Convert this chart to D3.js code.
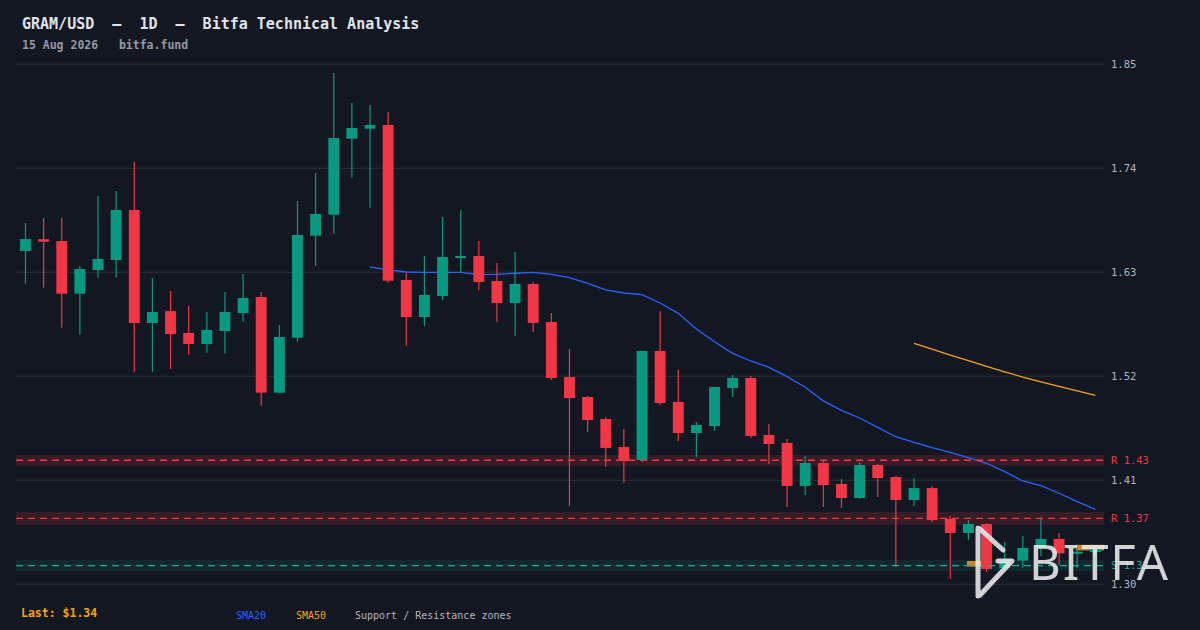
<!DOCTYPE html>
<html>
<head>
<meta charset="utf-8">
<script src="https://cdn.jsdelivr.net/npm/d3@7"></script>
<style>
html, body { margin: 0; padding: 0; background: #131722; }
svg { display: block; }
</style>
</head>
<body>
<div id="chart"></div>
<script>
// daily candles, 17 Jun 2026 -> 15 Aug 2026
const openPrices  = [1.6525,1.6650,1.6631,1.6074,1.6324,1.6430,1.6959,1.5764,1.5890,1.5658,
                     1.5542,1.5679,1.5869,1.6039,1.5027,1.5608,1.6687,1.6909,1.7713,1.7819,
                     1.7858,1.6219,1.5827,1.6049,1.6451,1.6472,1.6208,1.5975,1.6176,1.5774,
                     1.5192,1.4981,1.4748,1.4452,1.4315,1.5468,1.4929,1.4600,1.4674,1.5076,
                     1.5182,1.4579,1.4495,1.4040,1.4283,1.4061,1.3913,1.4262,1.4135,1.3892,
                     1.4018,1.3691,1.3543,1.3638,1.3172,1.3250,1.3387,1.3479,1.3323,1.3342];
const highPrices  = [1.6821,1.6874,1.6874,1.6367,1.7107,1.7160,1.7467,1.6240,1.6102,1.5944,
                     1.5880,1.6092,1.6282,1.6092,1.5743,1.7054,1.7350,1.8408,1.8091,1.8070,
                     1.7995,1.6296,1.6472,1.6885,1.6959,1.6631,1.6398,1.6515,1.6197,1.5870,
                     1.5489,1.4992,1.4770,1.4643,1.5468,1.5889,1.5267,1.4717,1.5087,1.5214,
                     1.5203,1.4695,1.4537,1.4357,1.4315,1.4114,1.4294,1.4272,1.4146,1.4124,
                     1.4040,1.3722,1.3680,1.3648,1.3447,1.3511,1.3709,1.3540,1.3416,1.3384];
const lowPrices   = [1.6179,1.6137,1.5714,1.5640,1.6243,1.6243,1.5249,1.5249,1.5280,1.5428,
                     1.5450,1.5440,1.5777,1.4889,1.5027,1.5566,1.6370,1.6708,1.7301,1.6983,
                     1.6190,1.5524,1.5732,1.6007,1.6296,1.6113,1.5774,1.5626,1.5669,1.5161,
                     1.3828,1.4611,1.4241,1.4072,1.4294,1.4897,1.4516,1.4346,1.4621,1.4981,
                     1.4547,1.4272,1.3817,1.3945,1.3817,1.3807,1.3903,1.3924,1.3183,1.3828,
                     1.3659,1.3056,1.3469,1.3130,1.3150,1.3176,1.3300,1.3204,1.3172,1.3296];
const closePrices = [1.6652,1.6624,1.6074,1.6335,1.6441,1.6959,1.5764,1.5880,1.5647,1.5542,
                     1.5690,1.5880,1.6028,1.5027,1.5616,1.6695,1.6917,1.7720,1.7826,1.7858,
                     1.6211,1.5827,1.6060,1.6462,1.6472,1.6197,1.5975,1.6176,1.5764,1.5182,
                     1.4970,1.4738,1.4442,1.4304,1.5468,1.4918,1.4600,1.4685,1.5087,1.5182,
                     1.4569,1.4484,1.4040,1.4283,1.4050,1.3913,1.4262,1.4124,1.3892,1.4018,
                     1.3680,1.3543,1.3638,1.3162,1.3257,1.3384,1.3479,1.3328,1.3345,1.3379];

// moving averages (first value sits on candle index sma20Start / sma50Start)
const sma20Start = 19;
const sma20 = [1.6357,1.6325,1.6303,1.6300,1.6300,1.6300,1.6275,1.6279,1.6290,1.6300,
               1.6279,1.6243,1.6184,1.6113,1.6081,1.6063,1.5975,1.5866,1.5700,1.5566,
               1.5443,1.5362,1.5295,1.5196,1.5084,1.4940,1.4840,1.4759,1.4660,1.4561,
               1.4502,1.4445,1.4396,1.4339,1.4280,1.4191,1.4093,1.4043,1.3963,1.3874,
               1.3793];
const sma50Start = 49;
const sma50 = [1.5549,1.5487,1.5425,1.5366,1.5306,1.5248,1.5192,1.5142,1.5093,1.5046,1.4999];

// support / resistance zones
const zoneKind  = ["R", "R", "S"];
const zoneLevel = [1.4312, 1.3698, 1.3197];
const zoneLow   = [1.4254, 1.3630, 1.3141];
const zoneHigh  = [1.4368, 1.3765, 1.3257];

// orange level markers: candle index range + price
const markerFrom  = [52, 58];
const markerTo    = [53, 59];
const markerPrice = [1.3217, 1.3388];

const yTicks = [1.85, 1.74, 1.63, 1.52, 1.41, 1.30];
const lastPrice = 1.34;

const W = 1200, H = 630;
const mono = "'DejaVu Sans Mono', monospace";
const green = "#089981", red = "#f23645", blue = "#2962ff", orange = "#f7a21b";

const dates = d3.timeDay.range(new Date(2026, 5, 17), new Date(2026, 7, 16));
const candles = dates.map((d, i) => ({
    date: d, i: i,
    open: openPrices[i], high: highPrices[i], low: lowPrices[i], close: closePrices[i]
}));

const svg = d3.select("#chart")
    .append("svg")
    .attr("width", W)
    .attr("height", H);

svg.append("rect")
    .attr("width", W)
    .attr("height", H)
    .attr("fill", "#131722");

const xScale = d3.scaleBand()
    .domain(d3.range(candles.length))
    .range([16.4, 1104.4])
    .paddingInner(0.4)
    .paddingOuter(0.2);
const xc = i => xScale(i) + xScale.bandwidth() / 2;

const yScale = d3.scaleLinear()
    .domain([1.30, 1.85])
    .range([584.3, 64.3]);

const plotLeft = 16, plotRight = 1104;

// zone fills
zoneKind.forEach((k, i) => {
    svg.append("rect")
        .attr("x", plotLeft)
        .attr("width", plotRight - plotLeft)
        .attr("y", yScale(zoneHigh[i]))
        .attr("height", yScale(zoneLow[i]) - yScale(zoneHigh[i]))
        .attr("fill", k == "R" ? red : green)
        .attr("opacity", k == "R" ? 0.16 : 0.13);
});

// grid
svg.append("g")
    .selectAll("line")
    .data(yTicks)
    .join("line")
    .attr("x1", plotLeft)
    .attr("x2", plotRight)
    .attr("y1", d => yScale(d))
    .attr("y2", d => yScale(d))
    .attr("stroke", "#2a2e39")
    .attr("stroke-width", 1);

// axis labels
const yAxis = d3.axisRight(yScale)
    .tickValues(yTicks)
    .tickFormat(d3.format(".2f"))
    .tickSize(0)
    .tickPadding(0);
const axisG = svg.append("g")
    .attr("transform", `translate(1111, 0)`)
    .call(yAxis);
axisG.select(".domain").remove();
axisG.selectAll("text")
    .attr("fill", "#b2b5be")
    .style("font-family", mono)
    .style("font-size", "10.5px");

// moving averages
const smaLine = d3.line()
    .x(d => xc(d.i))
    .y(d => yScale(d.v));

svg.append("path")
    .datum(sma20.map((v, k) => ({ i: sma20Start + k, v: v })))
    .attr("d", smaLine)
    .attr("fill", "none")
    .attr("stroke", blue)
    .attr("stroke-width", 1.3);

svg.append("path")
    .datum(sma50.map((v, k) => ({ i: sma50Start + k, v: v })))
    .attr("d", smaLine)
    .attr("fill", "none")
    .attr("stroke", orange)
    .attr("stroke-width", 1.3);

// orange markers
markerPrice.forEach((p, k) => {
    const x0 = xc(markerFrom[k]) - 1.5;
    const x1 = markerTo[k] == candles.length - 1 ? plotRight : xc(markerTo[k]) + xScale.bandwidth() / 2;
    svg.append("rect")
        .attr("x", x0)
        .attr("width", x1 - x0)
        .attr("y", yScale(p) - 2.8)
        .attr("height", 5.6)
        .attr("fill", "#e0952a")
        .attr("opacity", 0.9);
});

// candles
const cg = svg.append("g");
cg.selectAll("line")
    .data(candles)
    .join("line")
    .attr("x1", d => xc(d.i))
    .attr("x2", d => xc(d.i))
    .attr("y1", d => yScale(d.high))
    .attr("y2", d => yScale(d.low))
    .attr("stroke", d => d.close >= d.open ? green : red)
    .attr("stroke-width", 1.2);

cg.selectAll("rect")
    .data(candles)
    .join("rect")
    .attr("x", d => xScale(d.i))
    .attr("width", xScale.bandwidth())
    .attr("y", d => yScale(Math.max(d.open, d.close)))
    .attr("height", d => Math.max(1.5, Math.abs(yScale(d.open) - yScale(d.close))))
    .attr("fill", d => d.close >= d.open ? green : red);

// zone lines + labels
zoneKind.forEach((k, i) => {
    const col = k == "R" ? red : "#22ab94";
    svg.append("line")
        .attr("x1", plotLeft)
        .attr("x2", plotRight)
        .attr("y1", yScale(zoneLevel[i]))
        .attr("y2", yScale(zoneLevel[i]))
        .attr("stroke", col)
        .attr("stroke-width", 1.3)
        .attr("stroke-dasharray", "7,5");
    svg.append("text")
        .attr("x", 1111)
        .attr("y", yScale(zoneLevel[i]))
        .attr("dy", "0.35em")
        .attr("fill", col)
        .style("font-family", mono)
        .style("font-size", "10.5px")
        .text(`${k} ${zoneLevel[i].toFixed(2)}`);
});

// titles
svg.append("text")
    .attr("x", 22)
    .attr("y", 29)
    .attr("fill", "#e0e3eb")
    .style("font-family", mono)
    .style("font-size", "15px")
    .style("font-weight", "bold")
    .style("white-space", "pre")
    .text("GRAM/USD  \u2013  1D  \u2013  Bitfa Technical Analysis");

svg.append("text")
    .attr("x", 22)
    .attr("y", 49)
    .attr("fill", "#9598a1")
    .style("font-family", mono)
    .style("font-size", "11.5px")
    .style("font-weight", "bold")
    .style("white-space", "pre")
    .text("15 Aug 2026   bitfa.fund");

// footer
svg.append("text")
    .attr("x", 21)
    .attr("y", 617)
    .attr("fill", "#f7a600")
    .style("font-family", mono)
    .style("font-size", "11.5px")
    .style("font-weight", "bold")
    .text(`Last: $${lastPrice.toFixed(2)}`);

const legend = [
    { x: 236, text: "SMA20", col: blue },
    { x: 296, text: "SMA50", col: orange },
    { x: 355, text: "Support / Resistance zones", col: "#b2b5be" }
];
svg.append("g")
    .selectAll("text")
    .data(legend)
    .join("text")
    .attr("x", d => d.x)
    .attr("y", 619)
    .attr("fill", d => d.col)
    .style("font-family", mono)
    .style("font-size", "10px")
    .text(d => d.text);

// watermark logo
const logo = svg.append("g").attr("opacity", 0.88);
logo.append("path")
    .attr("d", "M978,528 L978,596 M980,529 L1003,550 M998,561 L1012,561 L980,595")
    .attr("fill", "none")
    .attr("stroke", "#ececec")
    .attr("stroke-width", 5)
    .attr("stroke-linecap", "round")
    .attr("stroke-linejoin", "round");
logo.append("text")
    .attr("x", 1029)
    .attr("y", 580)
    .attr("fill", "#ececec")
    .attr("textLength", 139)
    .attr("lengthAdjust", "spacing")
    .style("font-family", "'Noto Sans', sans-serif")
    .style("font-size", "49px")
    .text("BITFA");
</script>
</body>
</html>
